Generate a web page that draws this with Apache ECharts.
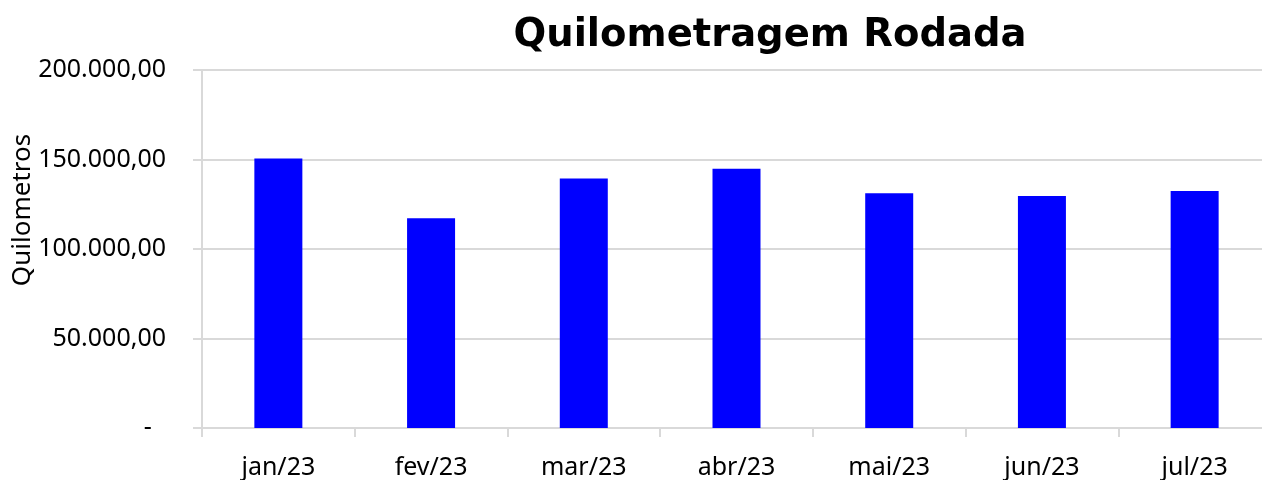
<!DOCTYPE html>
<html>
<head>
<meta charset="utf-8">
<script src="https://cdn.jsdelivr.net/npm/echarts@6/dist/echarts.min.js"></script>
<style>
html,body{margin:0;padding:0;background:#fff;overflow:hidden;width:1262px;height:480px;}
#chart{width:1280px;height:480px;}
</style>
</head>
<body>
<div id="chart"></div>
<script>
var categories = ['jan/23','fev/23','mar/23','abr/23','mai/23','jun/23','jul/23'];
var km = [150500, 117200, 139400, 144800, 131100, 129600, 132400];
var titleText = 'Quilometragem Rodada';
var yName = 'Quilometros';

function fmtBR(v){
  if (v === 0) return '-\u2007';
  var s = Math.round(v).toString().replace(/\B(?=(\d{3})+(?!\d))/g, '.');
  return s + ',00';
}

var chart = echarts.init(document.getElementById('chart'), null, {renderer:'canvas'});
chart.setOption({
  animation: false,
  backgroundColor: '#ffffff',
  title: {
    text: titleText,
    left: 765,
    top: 11,
    textAlign: 'center',
    textStyle: {fontFamily: 'DejaVu Sans', fontWeight: 'bold', fontSize: 38.5, color: '#000'}
  },
  graphic: [{
    type: 'text',
    x: 23, y: 210,
    rotation: Math.PI/2,
    style: {text: yName, font: '26px "Noto Sans"', fill: '#000', align: 'center', verticalAlign: 'middle'}
  }],
  grid: {left: 202, top: 70, height: 360, width: 1069, containLabel: false},
  xAxis: {
    type: 'category',
    data: categories,
    axisLine: {lineStyle: {color: '#d9d9d9', width: 2}},
    axisTick: {show: true, length: 9, lineStyle: {color: '#d9d9d9', width: 2}},
    axisLabel: {color: '#000', fontFamily: 'Noto Sans', fontSize: 25, margin: 27}
  },
  yAxis: {
    type: 'value',
    min: 0, max: 200000, interval: 50000,
    axisLine: {show: true, lineStyle: {color: '#d9d9d9', width: 2}},
    axisTick: {show: true, length: 9, lineStyle: {color: '#d9d9d9', width: 2}},
    splitLine: {lineStyle: {color: '#d9d9d9', width: 2}},
    axisLabel: {color: '#000', fontFamily: 'Noto Sans', fontSize: 25, margin: 36, formatter: fmtBR}
  },
  series: [{
    type: 'bar',
    data: km,
    barWidth: 48,
    itemStyle: {color: '#0000ff'}
  }]
});
</script>
</body>
</html>
